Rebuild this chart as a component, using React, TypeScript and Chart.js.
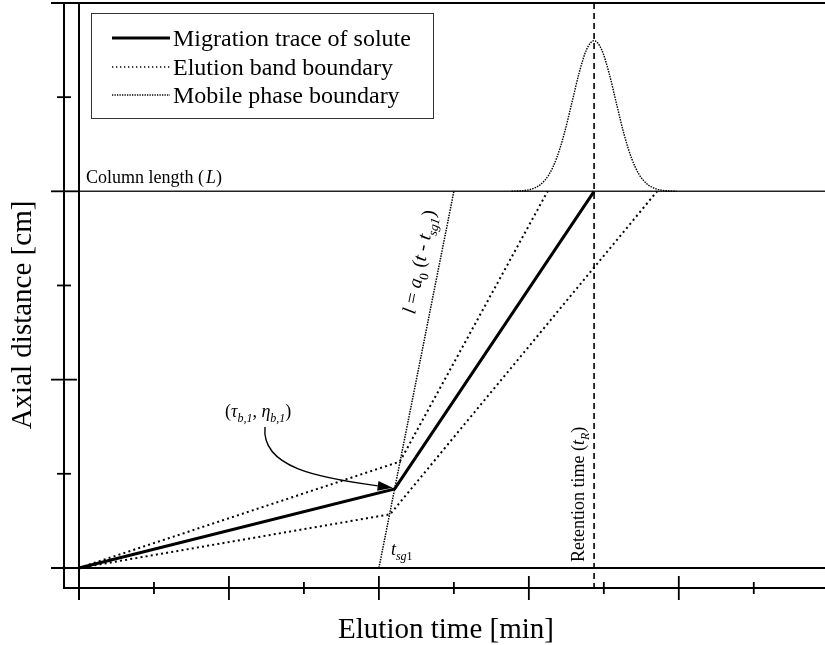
import React, { useEffect, useRef } from "react";
import { Chart, registerables } from "chart.js";

Chart.register(...registerables);

// ---- data ----
const migrationTime = [0, 4.21, 6.87];
const migrationDist = [0, 0.84, 4];

const upperBandTime = [0, 4.28, 6.25];
const upperBandDist = [0, 1.13, 4];

const lowerBandTime = [0, 4.15, 7.71];
const lowerBandDist = [0, 0.57, 4];

const mobileTime = [4.0, 5.0];
const mobileDist = [0, 4];

const peakTime = [5.77, 5.87, 5.97, 6.07, 6.17, 6.27, 6.37, 6.47, 6.57, 6.67, 6.77, 6.87, 6.97, 7.07, 7.17, 7.27, 7.37, 7.47, 7.57, 7.67, 7.77, 7.87, 7.97];
const peakDist = [4.001, 4.004, 4.012, 4.033, 4.082, 4.18, 4.351, 4.606, 4.927, 5.255, 5.506, 5.6, 5.506, 5.255, 4.927, 4.606, 4.351, 4.18, 4.082, 4.033, 4.012, 4.004, 4.001];

const columnLength = 4;
const retentionTime = 6.87;

const xTicks = [0, 1, 2, 3, 4, 5, 6, 7, 8, 9];
const yTicks = [0, 1, 2, 3, 4, 5, 6];

const legendLabels = ["Migration trace of solute", "Elution band boundary", "Mobile phase boundary"];

const SERIF = '"Liberation Serif", "Times New Roman", serif';

type Part = { t: string; it?: boolean; sub?: boolean; size?: number; gap?: number };

function drawRich(ctx: CanvasRenderingContext2D, parts: Part[], x: number, y: number, base = 18) {
  let cx = x;
  for (const p of parts) {
    const size = p.size ?? (p.sub ? Math.round(base * 0.66) : base);
    ctx.font = `${p.it ? "italic " : ""}${size}px ${SERIF}`;
    cx += p.gap ?? 0;
    const dy = p.sub ? base * 0.28 : 0;
    ctx.fillText(p.t, cx, y + dy);
    cx += ctx.measureText(p.t).width;
  }
  return cx - x;
}

function zip(a: number[], b: number[]) {
  return a.map((v, i) => ({ x: v, y: b[i] }));
}

const decor = {
  id: "decor",
  beforeDatasetsDraw(chart: any) {
    const ctx: CanvasRenderingContext2D = chart.ctx;
    const xs = chart.scales.x;
    const ys = chart.scales.y;
    const area = chart.chartArea;
    const X = (v: number) => xs.getPixelForValue(v);
    const Y = (v: number) => ys.getPixelForValue(v);
    const leftOuter = area.left;
    const bottomOuter = area.bottom;
    ctx.save();
    ctx.strokeStyle = "#000";
    ctx.lineCap = "butt";

    // outer axes
    ctx.lineWidth = 2;
    ctx.beginPath();
    ctx.moveTo(leftOuter, area.top);
    ctx.lineTo(leftOuter, bottomOuter);
    ctx.lineTo(area.right, bottomOuter);
    ctx.stroke();

    // y ticks on outer axis
    for (const t of yTicks) {
      const yy = Y(t);
      const major = t % 2 === 0;
      const half = major ? 13 : 7;
      ctx.lineWidth = 1.8;
      ctx.beginPath();
      if (t === 0 || t === yTicks[yTicks.length - 1]) {
        ctx.lineWidth = 2;
        ctx.moveTo(leftOuter - half, yy);
        ctx.lineTo(area.right, yy);
      } else if (t === columnLength) {
        ctx.moveTo(leftOuter - half, yy);
        ctx.lineTo(X(0), yy);
      } else {
        ctx.moveTo(leftOuter - half, yy);
        ctx.lineTo(leftOuter + half, yy);
      }
      ctx.stroke();
    }

    // column length line
    ctx.strokeStyle = "#222";
    ctx.lineWidth = 1.5;
    ctx.beginPath();
    ctx.moveTo(X(0), Y(columnLength));
    ctx.lineTo(area.right, Y(columnLength));
    ctx.stroke();
    ctx.strokeStyle = "#000";

    // x ticks on outer axis
    for (const t of xTicks) {
      const xx = X(t);
      const major = t % 2 === 0;
      const half = major ? 12 : 6;
      ctx.lineWidth = t === 0 ? 2 : 1.8;
      ctx.beginPath();
      if (t === 0) {
        ctx.moveTo(xx, area.top);
        ctx.lineTo(xx, bottomOuter + half);
      } else {
        ctx.moveTo(xx, bottomOuter - half);
        ctx.lineTo(xx, bottomOuter + half);
      }
      ctx.stroke();
    }

    // retention time dashed line
    ctx.lineWidth = 1.6;
    ctx.setLineDash([6, 4]);
    ctx.beginPath();
    ctx.moveTo(X(retentionTime), area.top);
    ctx.lineTo(X(retentionTime), bottomOuter);
    ctx.stroke();
    ctx.setLineDash([]);
    ctx.restore();
  },
  afterDatasetsDraw(chart: any) {
    const ctx: CanvasRenderingContext2D = chart.ctx;
    const xs = chart.scales.x;
    const ys = chart.scales.y;
    const X = (v: number) => xs.getPixelForValue(v);
    const Y = (v: number) => ys.getPixelForValue(v);
    ctx.save();
    ctx.fillStyle = "#000";
    ctx.strokeStyle = "#000";
    ctx.textBaseline = "alphabetic";
    ctx.textAlign = "left";

    // legend
    ctx.lineWidth = 1;
    ctx.strokeStyle = "#333";
    ctx.strokeRect(91.5, 13.5, 342, 105);
    const rows = [38, 67, 95];
    const styles = [
      { w: 3, dash: [] as number[] },
      { w: 1.3, dash: [1.3, 2.7] },
      { w: 1.3, dash: [1.3, 1.2] },
    ];
    rows.forEach((ry, i) => {
      ctx.strokeStyle = "#000";
      ctx.lineWidth = styles[i].w;
      ctx.setLineDash(styles[i].dash);
      ctx.beginPath();
      ctx.moveTo(112, ry);
      ctx.lineTo(170, ry);
      ctx.stroke();
      ctx.setLineDash([]);
      ctx.font = `24px ${SERIF}`;
      ctx.fillText(legendLabels[i], 173, ry + 8);
    });

    // Column length (L)
    drawRich(ctx, [{ t: "Column length (" }, { t: "L", it: true, gap: 2 }, { t: ")" }], 86, Y(columnLength) - 8, 18);

    // Retention time (tR)
    ctx.save();
    ctx.translate(X(retentionTime) - 10, 562);
    ctx.rotate(-Math.PI / 2);
    drawRich(ctx, [{ t: "Retention time (" }, { t: "t", it: true }, { t: "R", it: true, sub: true }, { t: ")" }], 0, 0, 18);
    ctx.restore();

    // l = a0 (t - tsg1) along mobile phase line
    const x1 = X(mobileTime[0]), y1 = Y(mobileDist[0]);
    const x2 = X(mobileTime[1]), y2 = Y(mobileDist[1]);
    const th = Math.atan2(y2 - y1, x2 - x1);
    const f = 0.665;
    const ax = x1 + (x2 - x1) * f;
    const ay = y1 + (y2 - y1) * f;
    const dnx = -Math.sin(th), dny = Math.cos(th);
    ctx.save();
    ctx.translate(ax - 14 * dnx, ay - 14 * dny);
    ctx.rotate(th);
    drawRich(
      ctx,
      [
        { t: "l", it: true },
        { t: " = " },
        { t: "a", it: true },
        { t: "0", sub: true },
        { t: " (" },
        { t: "t", it: true },
        { t: " - " },
        { t: "t", it: true },
        { t: "sg1", it: true, sub: true },
        { t: ")" },
      ],
      0,
      0,
      19.5
    );
    ctx.restore();

    // t_sg1 label
    drawRich(ctx, [{ t: "t", it: true }, { t: "sg", it: true, sub: true }, { t: "1", sub: true }], X(mobileTime[0]) + 12, Y(0) - 13, 18);

    // (tau_b1, eta_b1)
    drawRich(
      ctx,
      [
        { t: "(" },
        { t: "τ", it: true },
        { t: "b,1", it: true, sub: true },
        { t: ", " },
        { t: "η", it: true },
        { t: "b,1", it: true, sub: true },
        { t: ")" },
      ],
      225,
      417,
      18
    );

    // curved arrow to kink
    const kx = X(migrationTime[1]) - 2;
    const ky = Y(migrationDist[1]) - 1;
    const sx = 265, sy = 427;
    const c1x = 261, c1y = 468, c2x = 320, c2y = 478;
    ctx.strokeStyle = "#000";
    ctx.lineWidth = 1.4;
    const ang = Math.atan2(ky - c2y, kx - c2x);
    const hl = 15, hw = 5;
    const bx = kx - hl * Math.cos(ang), by = ky - hl * Math.sin(ang);
    ctx.beginPath();
    ctx.moveTo(sx, sy);
    ctx.bezierCurveTo(c1x, c1y, c2x, c2y, bx, by);
    ctx.stroke();
    ctx.beginPath();
    ctx.moveTo(kx, ky);
    ctx.lineTo(bx + hw * Math.sin(ang), by - hw * Math.cos(ang));
    ctx.lineTo(bx - hw * Math.sin(ang), by + hw * Math.cos(ang));
    ctx.closePath();
    ctx.fill();

    // axis titles
    ctx.font = `29px ${SERIF}`;
    ctx.textAlign = "center";
    ctx.fillText("Elution time [min]", 446, 638);
    ctx.save();
    ctx.translate(31, 315);
    ctx.rotate(-Math.PI / 2);
    ctx.fillText("Axial distance [cm]", 0, 0);
    ctx.restore();

    ctx.restore();
  },
};

export default function App() {
  const ref = useRef<HTMLCanvasElement | null>(null);
  useEffect(() => {
    if (!ref.current) return;
    const line = (data: any, w: number, dash: number[], extra: any = {}) => ({
      data,
      showLine: true,
      borderColor: "#000",
      backgroundColor: "#000",
      borderWidth: w,
      borderDash: dash,
      pointRadius: 0,
      fill: false,
      ...extra,
    });
    const chart = new Chart(ref.current, {
      type: "scatter",
      data: {
        datasets: [
          line(zip(upperBandTime, upperBandDist), 2, [2, 3.2]),
          line(zip(lowerBandTime, lowerBandDist), 2, [2, 3.2]),
          line(zip(mobileTime, mobileDist), 1.5, [1.5, 1.1]),
          line(zip(peakTime, peakDist), 1.4, [1.5, 1.1], { cubicInterpolationMode: "monotone" }),
          line(zip(migrationTime, migrationDist), 3, []),
        ],
      },
      options: {
        responsive: false,
        animation: false,
        events: [],
        layout: { padding: { left: 64, top: 3, right: 0, bottom: 57 } },
        scales: {
          x: { type: "linear", min: -0.2, max: 9.95, display: false },
          y: { type: "linear", min: -0.213, max: 6.0, display: false },
        },
        plugins: { legend: { display: false }, tooltip: { enabled: false } },
      },
      plugins: [decor],
    } as any);
    return () => chart.destroy();
  }, []);
  return (
    <div style={{ position: "absolute", left: 0, top: 0, width: 825, height: 645, background: "#fff" }}>
      <canvas ref={ref} width={825} height={645} style={{ display: "block" }} />
    </div>
  );
}
